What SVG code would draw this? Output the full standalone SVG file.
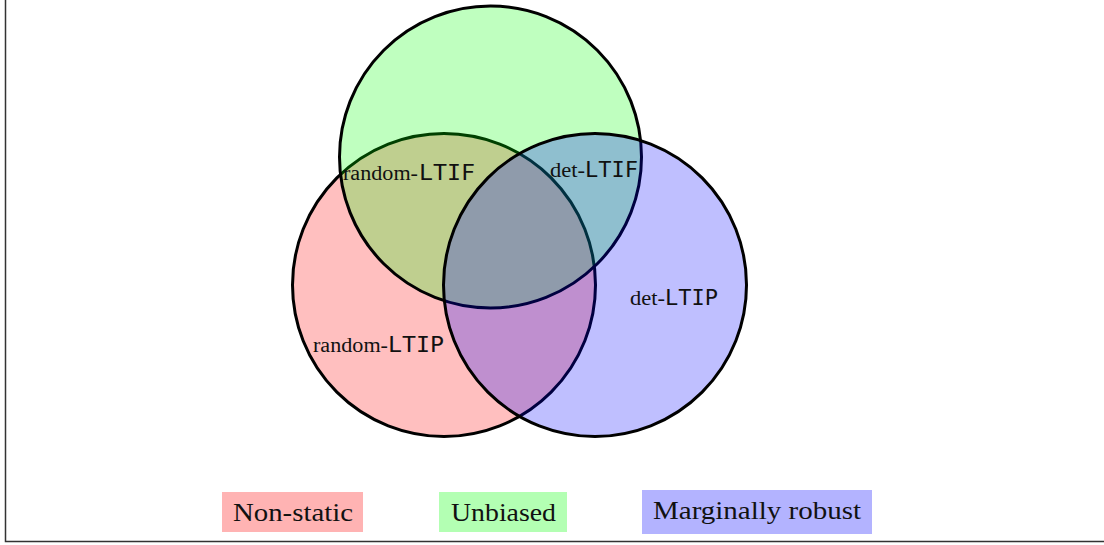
<svg xmlns="http://www.w3.org/2000/svg" width="1104" height="545" viewBox="0 0 1104 545">
<style>
.c{stroke:#000;stroke-width:3;fill-opacity:0.25}
.s{font-family:"Liberation Serif",serif;font-size:20px;fill:#111}
.t{font-family:"DejaVu Sans Mono","Liberation Mono",monospace;font-size:21.5px;fill:#111}
.lg{font-family:"Liberation Serif",serif;font-size:26px;fill:#111}
</style>
<rect width="1104" height="545" fill="#fff"/>
<g id="frame"><path d="M5.5 0 V541.5 H1104" fill="none" stroke="#333" stroke-width="1.5"/></g>
<g id="nonstatic"><circle class="c" cx="444" cy="285" r="151.5" fill="#ff0000"/></g>
<g id="unbiased"><circle class="c" cx="490.5" cy="157" r="151" fill="#00ff00"/></g>
<g id="robust"><circle class="c" cx="595" cy="285" r="151.5" fill="#0000ff"/></g>
<g id="labels">
<g id="lbl-random-ltif"><text class="s" x="343" y="180" textLength="75" lengthAdjust="spacingAndGlyphs">random-</text><text class="t" x="419" y="180" textLength="56" lengthAdjust="spacingAndGlyphs">LTIF</text></g>
<g id="lbl-det-ltif"><text class="s" x="550" y="177" textLength="35" lengthAdjust="spacingAndGlyphs">det-</text><text class="t" x="585" y="177" textLength="53" lengthAdjust="spacingAndGlyphs">LTIF</text></g>
<g id="lbl-det-ltip"><text class="s" x="630" y="305" textLength="35" lengthAdjust="spacingAndGlyphs">det-</text><text class="t" x="665" y="305" textLength="53" lengthAdjust="spacingAndGlyphs">LTIP</text></g>
<g id="lbl-random-ltip"><text class="s" x="313" y="352" textLength="75" lengthAdjust="spacingAndGlyphs">random-</text><text class="t" x="388" y="352" textLength="56" lengthAdjust="spacingAndGlyphs">LTIP</text></g>
</g>
<g id="legend">
<g id="leg-red"><rect x="222" y="492" width="141" height="40" fill="#ffb3b3"/><text class="lg" x="233" y="521" textLength="120" lengthAdjust="spacingAndGlyphs">Non-static</text></g>
<g id="leg-green"><rect x="439" y="492" width="128" height="40" fill="#b3ffb3"/><text class="lg" x="451" y="521" textLength="105" lengthAdjust="spacingAndGlyphs">Unbiased</text></g>
<g id="leg-blue"><rect x="642" y="490" width="230" height="44" fill="#b3b3ff"/><text class="lg" x="653" y="519" textLength="208" lengthAdjust="spacingAndGlyphs">Marginally robust</text></g>
</g>
</svg>
